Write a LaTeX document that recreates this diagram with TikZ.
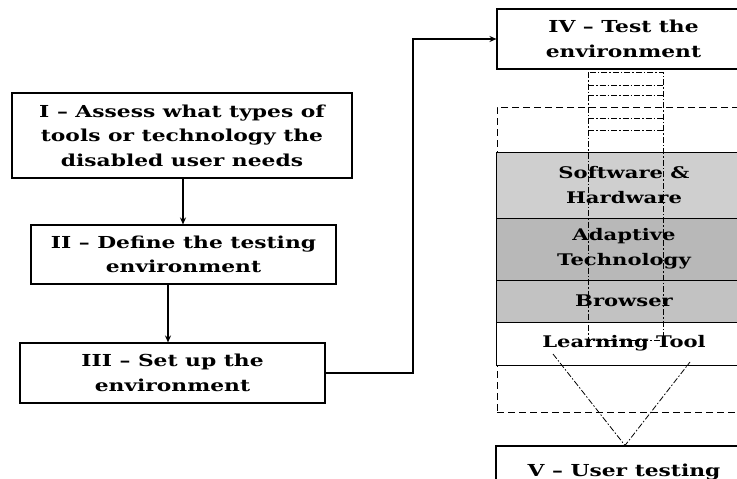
\documentclass[tikz,border=0pt]{standalone}
\usepackage{fontspec}
\setmainfont{DejaVu Serif}
\newfontfamily\widefont[FakeStretch=1.32,Ligatures=TeX]{DejaVu Serif}
\usetikzlibrary{arrows.meta,calc}
\tikzset{
  box/.style={draw=black, line width=1.1pt, fill=white, inner sep=0pt, align=center,
    font=\widefont\bfseries\fontsize{16.5}{24.5}\selectfont},
  layer/.style={draw=black, line width=1pt, inner sep=0pt, align=center,
    font=\widefont\bfseries\fontsize{16}{25}\selectfont},
  conn/.style={line width=2pt, -{Stealth[length=7pt,width=6pt]}},
  dd/.style={line width=0.8pt, dash pattern=on 6pt off 2pt on 1.5pt off 2pt},
}
\begin{document}
\begin{tikzpicture}[x=1pt,y=-1pt]
\useasboundingbox (0,0) rectangle (737,479);
\clip (0,0) rectangle (737,479);
% left flow
\node[box, minimum width=340pt, minimum height=85pt] (I) at (182,135.5)
  {I – Assess what types of\\tools or technology the\\disabled user needs};
\node[box, minimum width=305pt, minimum height=59pt] (II) at (183.5,254.5)
  {II – Define the testing\\environment};
\node[box, minimum width=305pt, minimum height=60pt] (III) at (172.5,373)
  {III – Set up the\\environment};
% right stack
\node[box, minimum width=253pt, minimum height=60pt] (IV) at (623.5,39)
  {IV – Test the\\environment};
\node[draw=black, line width=0.9pt, dash pattern=on 7pt off 4pt, minimum width=260pt, minimum height=305pt, inner sep=0pt] (frame) at (627,259.5) {};
\node[layer, fill=black!19, minimum width=256pt, minimum height=66pt] (sw) at (624,185) {Software \&\\Hardware};
\node[layer, fill=black!28, minimum width=256pt, minimum height=62pt] (at) at (624,249) {Adaptive\\Technology};
\node[layer, fill=black!24, minimum width=256pt, minimum height=42pt] (br) at (624,301) {Browser};
\node[layer, fill=white, minimum width=256pt, minimum height=43pt] (lt) at (624,343.5) {Learning Tool};
\node[box, minimum width=256pt, minimum height=52pt] (V) at (624,472) {V – User testing};
% narrow dash-dot column
\coordinate (c1) at (588,72);
\coordinate (c2) at (663,340);
\draw[dd] (c1) rectangle (c2);
\foreach \yy in {85,95,118,130} \draw[dd] (588,\yy) -- (663,\yy);
% funnel
\coordinate (f1) at (553,354);
\coordinate (f2) at (690,362);
\draw[dd] (f1) -- (V.north -| 625,0) -- (f2);
% connectors
\draw[conn] (I.south -| 183,0) -- (II.north -| 183,0);
\draw[conn] (II.south -| 168,0) -- (III.north -| 168,0);
\draw[conn] (III.east) -- (413,373) |- (IV.west);
\end{tikzpicture}
\end{document}
